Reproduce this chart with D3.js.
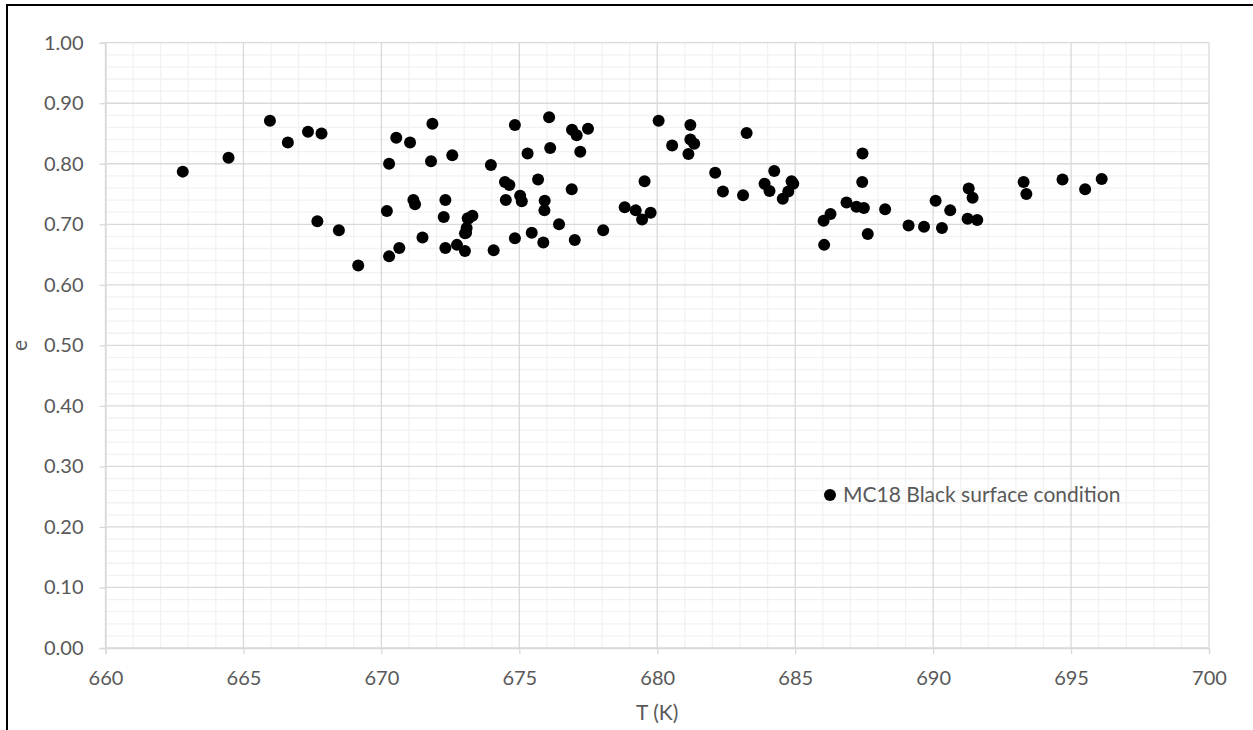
<!DOCTYPE html>
<html><head><meta charset="utf-8">
<script src="https://cdn.jsdelivr.net/npm/d3@7"></script>
<style>body{margin:0;background:#fff;} svg{display:block;}</style>
</head><body>
<svg id="c" width="1253" height="730"></svg>
<script>
const T = [662.80,664.46,665.96,666.61,667.34,667.83,667.68,668.46,669.16,670.28,670.54,671.04,671.85,671.80,672.57,670.20,671.16,671.22,672.32,672.26,671.49,670.65,670.28,672.32,672.74,673.03,673.13,673.03,
673.30,673.15,673.09,673.07,674.07,673.97,674.84,676.08,675.30,676.12,676.91,677.08,677.49,677.21,674.48,674.64,675.68,676.90,674.51,675.03,675.09,675.92,675.91,676.44,675.45,674.84,675.87,677.01,678.04,678.82,679.22,679.45,679.76,679.54,680.05,680.54,681.20,681.20,681.34,681.13,682.10,682.38,683.11,683.24,684.24,683.89,684.07,684.55,
684.87,684.93,684.75,687.44,687.43,686.86,687.22,687.49,686.28,686.03,686.05,687.63,688.26,689.11,689.67,690.09,690.32,690.62,691.29,691.43,691.25,691.60,693.28,693.38,694.69,695.51,696.11];
const E = [0.787,0.810,0.871,0.835,0.853,0.850,0.705,0.690,0.632,0.800,0.843,0.835,0.866,0.804,0.814,0.722,0.740,0.733,0.740,0.712,0.678,0.661,0.647,0.661,0.666,0.656,0.710,0.685,
0.714,0.709,0.694,0.686,0.657,0.798,0.864,0.877,0.817,0.826,0.856,0.847,0.858,0.820,0.770,0.765,0.774,0.758,0.740,0.747,0.738,0.739,0.723,0.700,0.686,0.677,0.670,0.674,0.690,0.728,0.723,0.708,0.719,0.771,0.871,0.830,0.864,0.840,0.833,0.816,0.785,0.754,0.748,0.851,0.788,0.767,0.755,0.742,
0.771,0.767,0.754,0.817,0.770,0.736,0.729,0.727,0.717,0.706,0.666,0.684,0.725,0.698,0.696,0.739,0.694,0.723,0.759,0.744,0.709,0.707,0.770,0.750,0.774,0.758,0.775];
const xTicks = [660,665,670,675,680,685,690,695,700];
const yTicks = [0,0.1,0.2,0.3,0.4,0.5,0.6,0.7,0.8,0.9,1.0];
const seriesName = "MC18 Black surface condition";
const xTitle = "T (K)", yTitle = "e";

const svg = d3.select("#c");
const FONT = "Lato, 'Open Sans', sans-serif";
const x = d3.scaleLinear().domain([660,700]).range([105.5,1209]);
const y = d3.scaleLinear().domain([0,1]).range([648,42.7]);

// frame
svg.append("rect").attr("x",7).attr("y",5).attr("width",1300).attr("height",800)
  .attr("fill","none").attr("stroke","#000").attr("stroke-width",2);

// minor grid
const g = svg.append("g");
d3.range(661,700,1).filter(v=>v%5!==0).forEach(v=>{
  g.append("line").attr("x1",x(v)).attr("x2",x(v)).attr("y1",y(0)).attr("y2",y(1)).attr("stroke","#f2f2f2").attr("stroke-width",1.3);
});
d3.range(1,50,1).filter(i=>i%5!==0).forEach(i=>{
  const v=i/50;
  g.append("line").attr("x1",x(660)).attr("x2",x(700)).attr("y1",y(v)).attr("y2",y(v)).attr("stroke","#f2f2f2").attr("stroke-width",1.3);
});
// major grid
xTicks.forEach(v=>{
  g.append("line").attr("x1",x(v)).attr("x2",x(v)).attr("y1",y(0)).attr("y2",y(1)).attr("stroke","#d9d9d9").attr("stroke-width",1.3);
});
yTicks.forEach(v=>{
  g.append("line").attr("x1",x(660)).attr("x2",x(700)).attr("y1",y(v)).attr("y2",y(v)).attr("stroke","#d9d9d9").attr("stroke-width",1.3);
});

// axes
const xa = svg.append("g").attr("transform",`translate(0,${y(0)})`)
  .call(d3.axisBottom(x).tickValues(xTicks).tickSize(6).tickPadding(17).tickFormat(d3.format("d")));
const ya = svg.append("g").attr("transform",`translate(${x(660)},0)`)
  .call(d3.axisLeft(y).tickValues(yTicks).tickSize(6).tickPadding(16).tickFormat(d3.format(".2f")));
[xa,ya].forEach(a=>{
  a.select(".domain").attr("stroke","#d9d9d9").attr("stroke-width",1.3);
  a.selectAll(".tick line").attr("stroke","#d9d9d9").attr("stroke-width",1.3);
  a.selectAll("text").attr("fill","#595959").style("font-family",FONT).style("font-size","20px");
});

// points
svg.append("g").selectAll("circle").data(T.map((t,i)=>[t,E[i]])).join("circle")
  .attr("cx",d=>x(d[0])).attr("cy",d=>y(d[1])).attr("r",6).attr("fill","#000");

// titles
svg.append("text").attr("x",(x(660)+x(700))/2).attr("y",720).attr("text-anchor","middle")
  .attr("fill","#595959").style("font-family",FONT).style("font-size","21px").text(xTitle);
svg.append("text").attr("transform",`translate(27,${(y(0)+y(1))/2}) rotate(-90)`).attr("text-anchor","middle")
  .attr("fill","#595959").style("font-family",FONT).style("font-size","21px").text(yTitle);

// legend
svg.append("circle").attr("cx",830).attr("cy",495).attr("r",6).attr("fill","#000");
svg.append("text").attr("x",843).attr("y",502).attr("fill","#595959")
  .style("font-family",FONT).style("font-size","21px").text(seriesName);
</script>
</body></html>
